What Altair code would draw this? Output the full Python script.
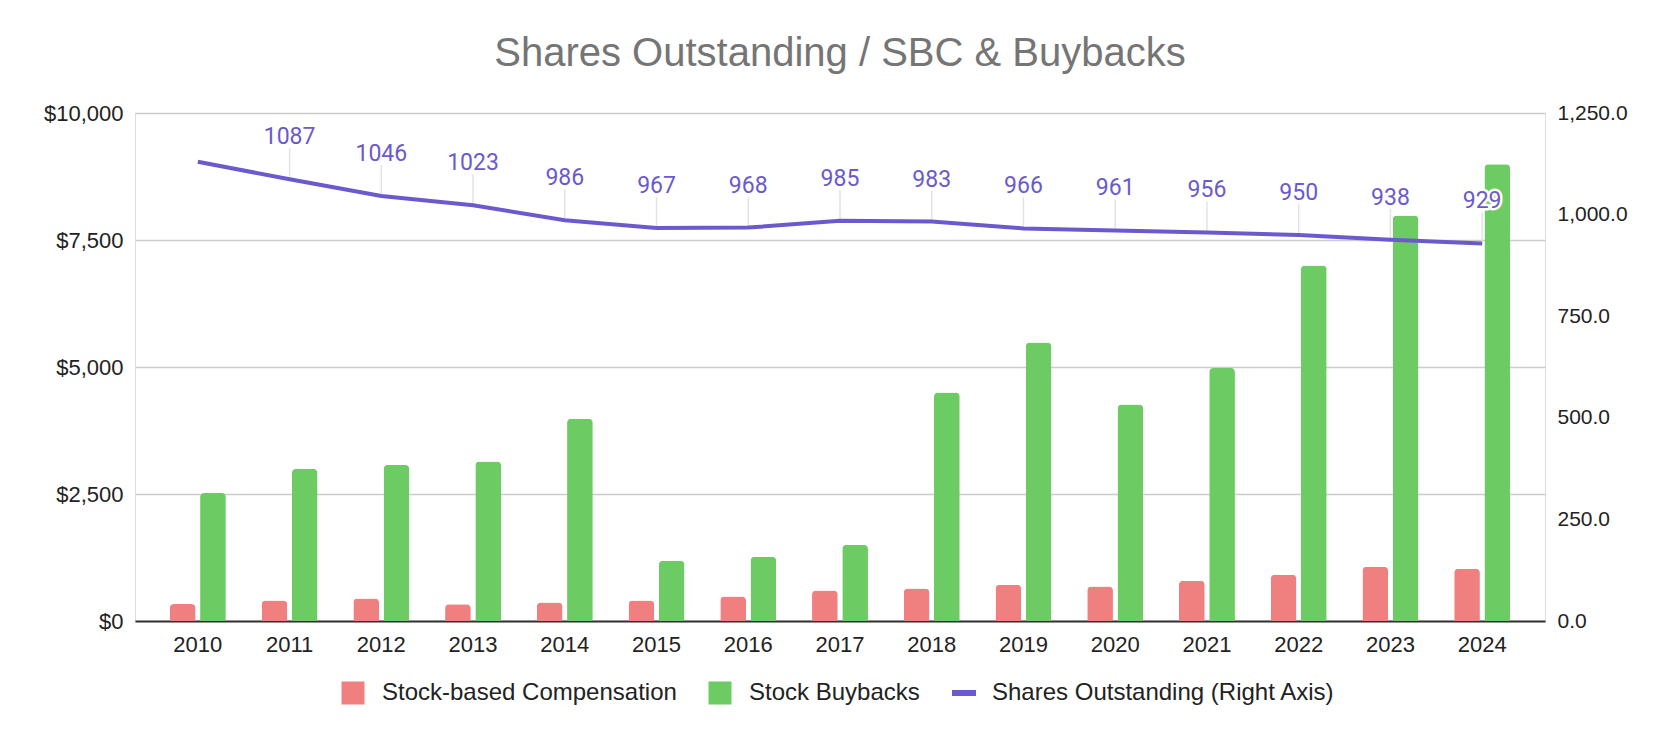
import altair as alt
import pandas as pd

years = [str(y) for y in range(2010, 2025)]
sbc = [335, 404, 443, 332, 365, 404, 482, 600, 638, 716, 677, 794, 911, 1068, 1029]
buybacks = [2520, 2990, 3070, 3140, 3980, 1185, 1263, 1497, 4500, 5480, 4260, 4980, 7000, 7980, 8990]
shares = [1130, 1087, 1046, 1023, 986, 967, 968, 985, 983, 966, 961, 956, 950, 938, 929]
show_label = [False, True, True, True, True, True, True, True, True, True, True, True, True, True, True]

series_bars = ["Stock-based Compensation", "Stock Buybacks"]
series_line = "Shares Outstanding (Right Axis)"
title_text = "Shares Outstanding / SBC & Buybacks"

bar_rows = []
for i, y in enumerate(years):
    bar_rows.append({"year": y, "series": series_bars[0], "value": sbc[i]})
    bar_rows.append({"year": y, "series": series_bars[1], "value": buybacks[i]})
bars_df = pd.DataFrame(bar_rows)
line_df = pd.DataFrame({"year": years, "shares": shares, "series": series_line, "show": show_label})

FONT = "Liberation Sans, Arial, sans-serif"
PURPLE = "#6a5acd"
AXIS_FS = 22

xscale = alt.Scale(paddingInner=0.39, paddingOuter=0.38)
X = alt.X("year:N", scale=xscale, sort=years, title=None,
          axis=alt.Axis(labelAngle=0, labelFont=FONT, labelFontSize=AXIS_FS, labelColor="#222222",
                        labelPadding=13, ticks=False, domain=True, domainColor="#333333",
                        domainWidth=2, grid=False))
Xc = alt.X("year:N", scale=xscale, sort=years, title=None, bandPosition=0.5)

bars = alt.Chart(bars_df).mark_bar(cornerRadiusTopLeft=4, cornerRadiusTopRight=4).encode(
    x=X,
    xOffset=alt.XOffset("series:N", sort=series_bars,
                        scale=alt.Scale(paddingInner=0.15, paddingOuter=0)),
    y=alt.Y("value:Q", title=None,
            scale=alt.Scale(domain=[0, 10000], nice=False),
            axis=alt.Axis(values=[0, 2500, 5000, 7500, 10000], format="$,.0f",
                          labelFont=FONT, labelFontSize=AXIS_FS, labelColor="#222222",
                          labelPadding=12, ticks=False, domain=False,
                          grid=True, gridColor="#cccccc", gridWidth=1.5)),
    color=alt.Color("series:N", sort=series_bars,
                    scale=alt.Scale(domain=series_bars, range=["#f08080", "#6ccb63"]),
                    legend=alt.Legend(orient="none", legendX=206, legendY=568,
                                      direction="horizontal", title=None,
                                      symbolType="square", symbolSize=529,
                                      symbolStrokeWidth=0, symbolOpacity=1,
                                      labelFont=FONT, labelFontSize=24, labelLimit=500,
                                      labelColor="#222222", labelOffset=17,
                                      columnPadding=31, padding=0)),
)

Yr = alt.Y("shares:Q", title=None,
           scale=alt.Scale(domain=[0, 1250], nice=False),
           axis=alt.Axis(orient="right", values=[0, 250, 500, 750, 1000, 1250],
                         format=",.1f", labelFont=FONT, labelFontSize=21,
                         labelColor="#222222", labelPadding=12, ticks=False,
                         domain=False, grid=False))
Y2 = alt.Y2("shares:Q")

line = alt.Chart(line_df).mark_line(strokeWidth=4).encode(
    x=Xc,
    y=Yr,
    stroke=alt.Stroke("series:N",
                      scale=alt.Scale(domain=[series_line], range=[PURPLE]),
                      legend=alt.Legend(orient="none", legendX=814, legendY=565,
                                        title=None, symbolType="stroke",
                                        symbolSize=576, symbolStrokeWidth=6,
                                        labelFont=FONT, labelFontSize=24, labelLimit=500,
                                        labelColor="#222222", labelOffset=13,
                                        padding=0)),
)

labelled = alt.Chart(line_df).transform_filter("datum.show")

leaders = labelled.mark_rule(color="#e3e3e3", strokeWidth=1.5, y2Offset=-31).encode(
    x=Xc, y=Yr, y2=Y2)

halo = labelled.mark_text(font="Roboto", fontSize=23, dy=-35, baseline="alphabetic",
                          stroke="white", strokeWidth=5, strokeJoin="round",
                          fill="white").encode(
    x=Xc, y=Yr, text=alt.Text("shares:Q", format="d"))

labels = labelled.mark_text(font="Roboto", fontSize=23, dy=-35, baseline="alphabetic",
                            color=PURPLE).encode(
    x=Xc, y=Yr, text=alt.Text("shares:Q", format="d"))

right = alt.layer(leaders, line, halo, labels)

chart = alt.layer(bars, right).resolve_scale(
    y="independent", color="independent", stroke="independent"
).properties(
    width=1410, height=508,
    padding={"left": 127, "top": 105, "right": 121, "bottom": 113},
    autosize=alt.AutoSizeParams(type="none"),
    title=alt.Title(title_text, font=FONT, fontSize=40, fontWeight="normal",
                    color="#757575", anchor="middle", frame="group",
                    baseline="alphabetic", offset=0, dy=4),
).configure_view(stroke=None).configure(background="white")

chart.save("out.html", embed_options={"renderer": "svg", "actions": False})
